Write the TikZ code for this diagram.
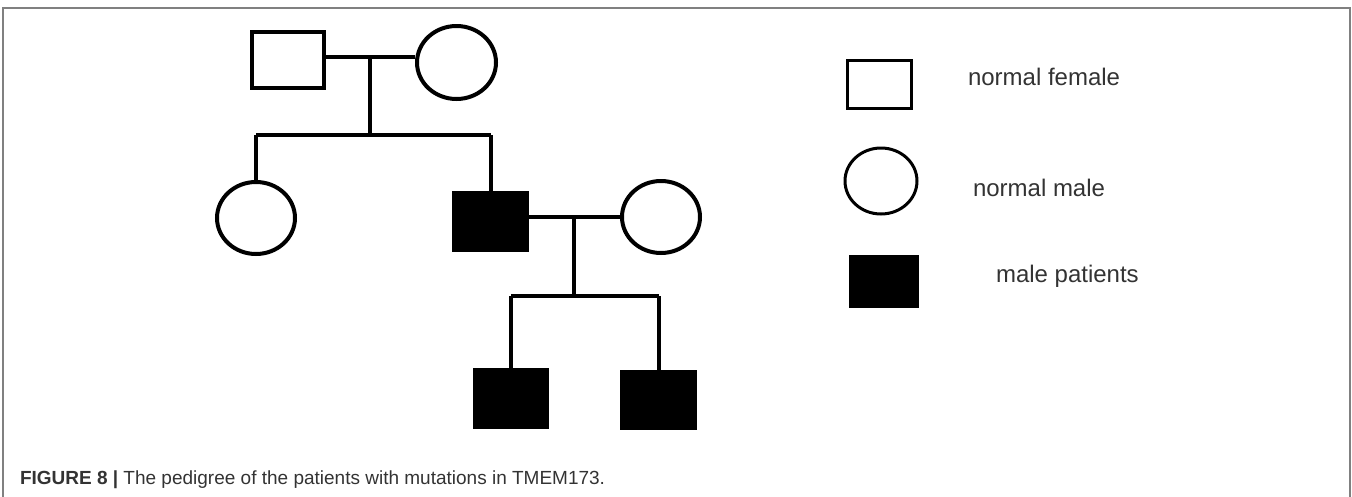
\documentclass[tikz,border=0pt]{standalone}
\usepackage{fontspec}
\setmainfont{Liberation Sans}
\usetikzlibrary{shapes.geometric,calc}
\definecolor{txt}{HTML}{333333}
\definecolor{framec}{HTML}{808080}
\begin{document}
\begin{tikzpicture}[x=1pt,y=-1pt,
  line width=4pt,
  sqbox/.style={draw,rectangle,inner sep=0pt,minimum width=#1},
  sqbox/.default=72pt,
  patient/.style={sqbox=#1,fill=black},
  patient/.default=72pt,
  oval/.style={draw,ellipse,inner sep=0pt},
  legtext/.style={anchor=base west,inner sep=0pt,text=txt,font=\fontsize{24}{28}\selectfont},
  framel/.style={draw=framec,line width=2pt}]
\useasboundingbox (0,0) rectangle (1352,496);
\draw[framel] (2.5,510) -- (2.5,8) -- (1349.5,8) -- (1349.5,510);
% generation 1
\node[sqbox=72pt,minimum height=56pt] (f1) at (288,60) {};
\node[oval,minimum width=79pt,minimum height=73pt] (m1) at (456.5,62.5) {};
\coordinate (j1) at (370,57);
\coordinate (s1L) at (256,135);
\coordinate (s1R) at (490.5,135);
% generation 2
\node[oval,minimum width=78pt,minimum height=72pt] (c1) at (256,218) {};
\node[patient=73pt,minimum height=57pt] (p1) at (490.5,221.5) {};
\node[oval,minimum width=78pt,minimum height=72pt] (w2) at (661,217) {};
\coordinate (j2) at (574,217);
\coordinate (s2L) at (511,296);
\coordinate (s2R) at (658.5,296);
% generation 3
\node[patient=72pt,minimum height=57pt] (k1) at (511,398.5) {};
\node[patient=73pt,minimum height=56pt] (k2) at (658.5,400) {};
% connectors
\draw (f1.east |- j1) -- (m1.west |- j1);
\draw (j1) -- (j1 |- s1L);
\draw (s1L) -- (s1R);
\draw (s1L) -- (c1.north);
\draw (s1R) -- (p1.north);
\draw (p1.east |- j2) -- (w2.west |- j2);
\draw (j2) -- (j2 |- s2L);
\draw (s2L) -- (s2R);
\draw (s2L) -- (k1.north);
\draw (s2R) -- (k2.north);
% legend
\node[sqbox=64pt,minimum height=48pt,line width=3pt] (lf) at (879,84) {};
\node[oval,minimum width=72pt,minimum height=66pt,line width=3pt] (lm) at (881,181) {};
\node[patient=66pt,minimum height=49pt] (lp) at (884,281.5) {};
\node[legtext] (tf) at (966,85) {normal female};
\node[legtext] (tm) at (971,196) {normal male};
\node[legtext] (tp) at (994,282) {male patients};
% caption
\node[anchor=base west,inner sep=0pt,text=txt,font=\fontsize{19}{22}\selectfont] (cap) at (18,484)
  {\textbf{FIGURE 8 |} The pedigree of the patients with mutations in TMEM173.};
\end{tikzpicture}
\end{document}
